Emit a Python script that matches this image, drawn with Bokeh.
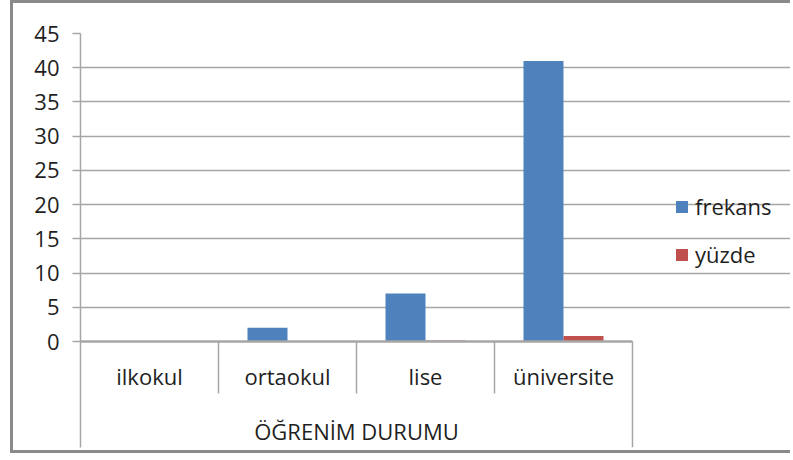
from bokeh.plotting import figure
from bokeh.models import (Range1d, FixedTicker, Legend, LegendItem, ColumnDataSource)
from bokeh.core.properties import value
from bokeh.embed import file_html
from bokeh.resources import INLINE

# ---- data ----
categories = ["ilkokul", "ortaokul", "lise", "üniversite"]
frekans = [0, 2, 7, 41]
yuzde = [0, 0.04, 0.14, 0.82]
y_ticks = [0, 5, 10, 15, 20, 25, 30, 35, 40, 45]
axis_title = "ÖĞRENİM DURUMU"

# ---- styling ----
FONT = "Open Sans"
FS = "22px"
TXT = "#1f1f1f"
GRID = "#a6a6a6"
BLUE = "#4F81BD"
RED = "#C0504D"
BORDER = "3px solid #8a8a8a"

n = len(categories)
cat_px = 138.0
px_per_unit = 308.0 / 45.0
y_bottom = -(106.0 / px_per_unit)
W, H = 780, 453
LEFT = 67
frame_px = W - LEFT

p = figure(width=W, height=H, output_backend="svg", toolbar_location=None,
           x_range=Range1d(0, frame_px / cat_px), y_range=Range1d(y_bottom, 45),
           x_axis_location=None, min_border_left=LEFT, min_border_right=0,
           min_border_top=30, min_border_bottom=9)
p.styles = {"margin-left": "10px", "border-left": BORDER,
            "border-top": BORDER, "border-bottom": BORDER}
p.outline_line_color = None
p.background_fill_color = "white"
p.border_fill_color = "white"

# grid (the zero line is drawn separately, over the bars)
p.xgrid.visible = False
p.ygrid.ticker = FixedTicker(ticks=[t for t in y_ticks if t != 0])
p.ygrid.bounds = (0, n)
p.ygrid.grid_line_color = GRID
p.ygrid.grid_line_width = 1.5

# y axis
ya = p.yaxis[0]
ya.ticker = FixedTicker(ticks=y_ticks)
ya.axis_line_color = GRID
ya.axis_line_width = 1.5
ya.major_tick_line_color = GRID
ya.major_tick_line_width = 1.5
ya.major_tick_out = 8
ya.major_tick_in = 0
ya.minor_tick_line_color = None
ya.major_label_standoff = 13
ya.major_label_text_font = FONT
ya.major_label_text_font_size = FS
ya.major_label_text_color = TXT

# bars
w = 40.0 / cat_px
centers = [i + 0.5 for i in range(n)]
src = ColumnDataSource(dict(
    cat=categories, xc=centers,
    xf=[c - w / 2 for c in centers], xy=[c + w / 2 for c in centers],
    frekans=frekans, yuzde=yuzde))
rf = p.vbar(x="xf", top="frekans", bottom=0, width=w, source=src,
            fill_color=BLUE, line_color=None)
ry = p.vbar(x="xy", top="yuzde", bottom=0, width=w, source=src,
            fill_color=RED, line_color=None)

# category axis baseline drawn over bars (as in the original)
p.segment(x0=[0], y0=[0], x1=[n], y1=[0], line_color=GRID, line_width=2.5,
          line_cap="butt")

# category separators and title box
sep_depth = 52.0 / px_per_unit
p.segment(x0=list(range(1, n)), y0=[0] * (n - 1), x1=list(range(1, n)),
          y1=[-sep_depth] * (n - 1), line_color=GRID, line_width=1.5)
p.segment(x0=[n], y0=[0], x1=[n], y1=[y_bottom], line_color=GRID, line_width=1.5)

# category labels
p.text(x="xc", y=0, text="cat", source=src, y_offset=34, text_align="center",
       text_baseline="alphabetic", text_font=value(FONT), text_font_size=FS,
       text_color=TXT)
p.text(x=[n / 2.0], y=[0], text=[axis_title], y_offset=89, text_align="center",
       text_baseline="alphabetic", text_font=value(FONT), text_font_size=FS,
       text_color=TXT)

# legend
legend = Legend(items=[LegendItem(label="frekans", renderers=[rf]),
                       LegendItem(label="yüzde", renderers=[ry])],
                location=(594, 178), orientation="vertical",
                glyph_width=15, glyph_height=15, label_height=25, spacing=18,
                label_standoff=6, padding=0, margin=0,
                border_line_color=None, background_fill_alpha=0,
                label_text_font=FONT, label_text_font_size=FS,
                label_text_color=TXT)
p.add_layout(legend, "center")

open("out.html", "w").write(file_html(p, INLINE))
